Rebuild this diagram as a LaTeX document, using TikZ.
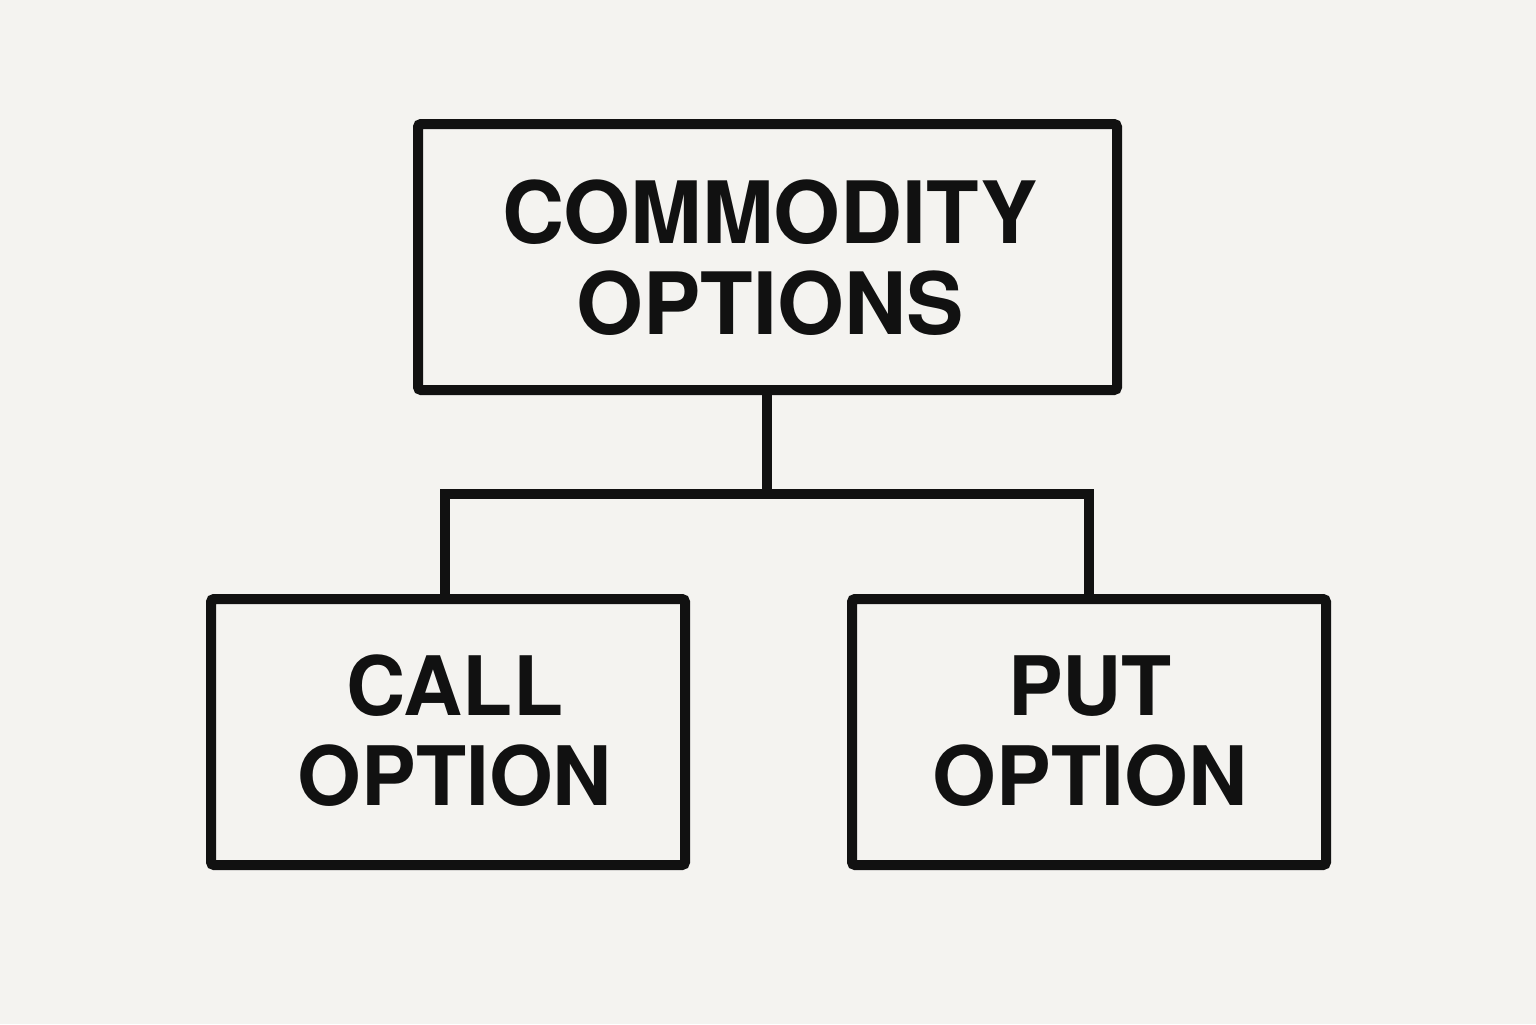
\documentclass[tikz,border=0pt]{standalone}
\usepackage{fontspec}
\setmainfont{TeX Gyre Heros}
\definecolor{bgc}{HTML}{F4F3F0}
\definecolor{ink}{HTML}{111111}
\begin{document}
\begin{tikzpicture}[x=0.5pt,y=-0.5pt,
  box/.style={draw=ink,line width=5pt,rounded corners=1.5pt,fill=none},
  lbl/.style={text=ink,font=\fontsize{43}{45.5}\selectfont\bfseries,align=center,inner sep=0pt},
  sublbl/.style={lbl,font=\fontsize{41}{45}\selectfont\bfseries},
  link/.style={draw=ink,line width=5pt}]
\fill[bgc] (0,0) rectangle (1536,1024);
\useasboundingbox (0,0) rectangle (1536,1024);
% boxes
\draw[box] (418,124) rectangle (1117,390);
\draw[box] (211,599) rectangle (685,865);
\draw[box] (852,599) rectangle (1326,865);
\node[lbl] (top) at (770,258) {COMMODITY\\OPTIONS};
\node[sublbl] (call) at (455,731) {CALL\\OPTION};
\node[sublbl] (put) at (1090,731) {PUT\\OPTION};
% connectors
\coordinate (tb) at (767,390);
\coordinate (mid) at (767,494);
\coordinate (lj) at (445,494);
\coordinate (rj) at (1089,494);
\coordinate (lt) at (445,599);
\coordinate (rt) at (1089,599);
\draw[link] (tb) -- (mid);
\draw[link,line join=miter] (lt) -- (lj) -- (rj) -- (rt);
\end{tikzpicture}
\end{document}
